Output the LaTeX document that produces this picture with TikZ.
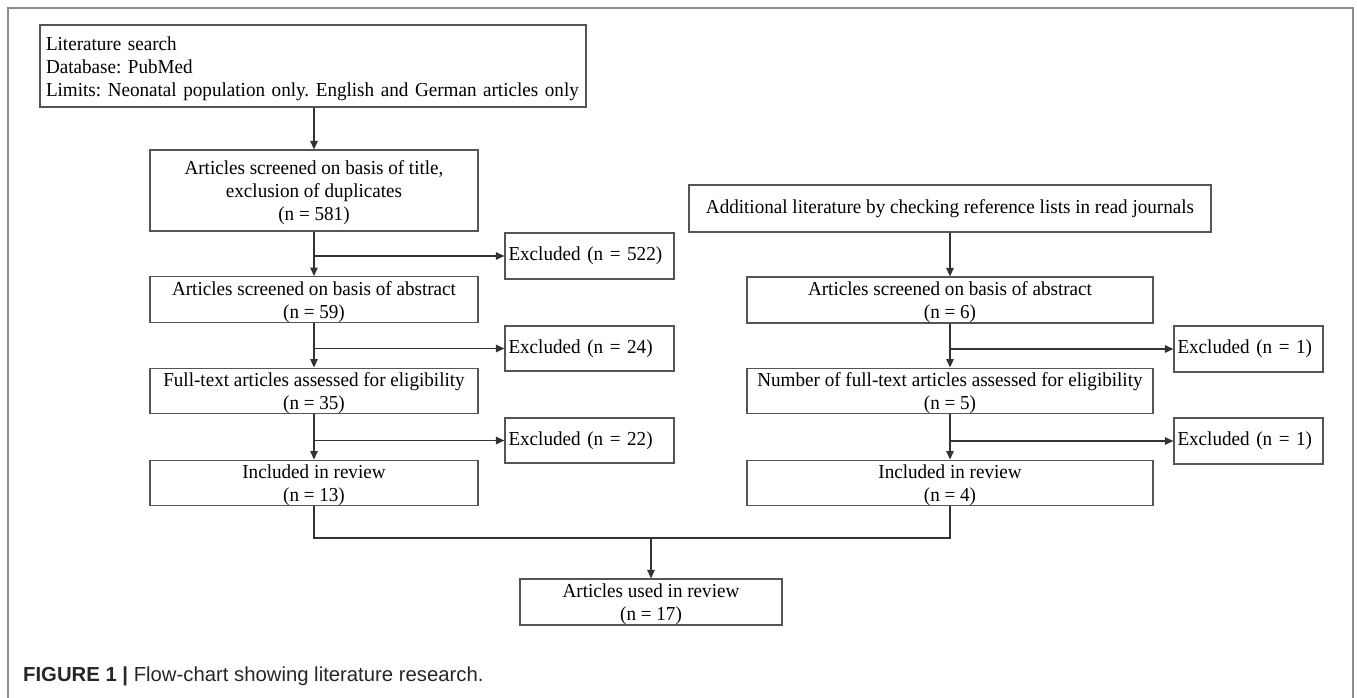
\documentclass[tikz,border=0pt]{standalone}
\usepackage{fontspec}
\setmainfont[FakeStretch=0.965]{Liberation Serif}
\newfontfamily\capfont{Liberation Sans}
\usetikzlibrary{arrows.meta}
\definecolor{boxline}{HTML}{555555}
\definecolor{conline}{HTML}{333333}
\definecolor{frameline}{HTML}{8C8C8C}
\newcommand\tstr{\rule{0pt}{18.5pt}}
\tikzset{
  boxbase/.style={draw=boxline, line width=1.2pt, inner sep=0pt,
    font=\fontsize{19.8}{23}\selectfont\frenchspacing},
  cbox/.style={boxbase, align=center},
  lbox/.style={boxbase, inner xsep=3.5pt, align=left},
  conn/.style={draw=conline, line width=1.2pt},
  arr/.style={conn, -{Triangle[length=8.5pt,width=7.5pt]}},
}
\begin{document}
\begin{tikzpicture}[x=1pt,y=-1pt]
\useasboundingbox (0,0) rectangle (1357,697);
\draw[frameline, line width=2pt] (7.5,710) -- (7.5,7.5) -- (1353,7.5) -- (1353,710);

% left column
\node[lbox, inner xsep=6pt, text width=534pt, minimum height=82pt] (A) at (313,66)
  {\tstr\mbox{Literature search}\\\mbox{Database: PubMed}\\\mbox{Limits: Neonatal population only. English and German articles only}};
\node[cbox, minimum width=328pt, minimum height=81pt] (B) at (314,190.5)
  {\tstr Articles screened on basis of title,\\exclusion of duplicates\\(n = 581)};
\node[cbox, minimum width=328pt, minimum height=45pt] (C) at (314,299.5)
  {\tstr Articles screened on basis of abstract\\(n = 59)};
\node[cbox, minimum width=328pt, minimum height=44pt] (D) at (314,391)
  {\tstr Full-text articles assessed for eligibility\\(n = 35)};
\node[cbox, minimum width=328pt, minimum height=42pt] (E) at (314,483)
  {\tstr Included in review\\(n = 13)};

\node[lbox, text width=162pt, minimum height=46pt] (X1) at (589.5,256) {Excluded (n = 522)};
\node[lbox, text width=162pt, minimum height=45pt] (X2) at (589.5,348.5) {Excluded (n = 24)};
\node[lbox, text width=162pt, minimum height=45pt] (X3) at (589.5,440.5) {Excluded (n = 22)};

% right column
\node[cbox, minimum width=522pt, minimum height=47pt] (F) at (950,208.5)
  {Additional literature by checking reference lists in read journals};
\node[cbox, minimum width=406pt, minimum height=46pt] (G) at (950,300)
  {\tstr Articles screened on basis of abstract\\(n = 6)};
\node[cbox, minimum width=406pt, minimum height=44pt] (H) at (950,391)
  {\tstr Number of full-text articles assessed for eligibility\\(n = 5)};
\node[cbox, minimum width=406pt, minimum height=42pt] (E2) at (950,483)
  {\tstr Included in review\\(n = 4)};

\node[lbox, text width=142pt, minimum height=46pt] (Y1) at (1248.5,349) {Excluded (n = 1)};
\node[lbox, text width=142pt, minimum height=46pt] (Y2) at (1248.5,441) {Excluded (n = 1)};

% final
\node[cbox, minimum width=262pt, minimum height=46pt] (Z) at (651,602)
  {\tstr Articles used in review\\(n = 17)};

% caption
\node[anchor=west, inner sep=0pt, font=\capfont\fontsize{20.3}{22}\selectfont, text=black!85] (cap) at (23,676)
  {\textbf{FIGURE 1} \textbf{|} Flow-chart showing literature research.};

% connectors left
\draw[arr] (A.south -| B.north) -- (B.north);
\draw[arr] (B.south) -- (C.north);
\draw[arr] (B.south |- X1.west) -- (X1.west);
\draw[arr] (C.south) -- (D.north);
\draw[arr] (C.south |- X2.west) -- (X2.west);
\draw[arr] (D.south) -- (E.north);
\draw[arr] (D.south |- X3.west) -- (X3.west);

% connectors right
\draw[arr] (F.south) -- (G.north);
\draw[arr] (G.south) -- (H.north);
\draw[arr] (G.south |- Y1.west) -- (Y1.west);
\draw[arr] (H.south) -- (E2.north);
\draw[arr] (H.south |- Y2.west) -- (Y2.west);

% merge
\coordinate (m) at (651,538);
\draw[conn] (E.south) -- (E.south |- m) -- (E2.south |- m) -- (E2.south);
\draw[arr] (Z.north |- m) -- (Z.north);
\end{tikzpicture}
\end{document}
